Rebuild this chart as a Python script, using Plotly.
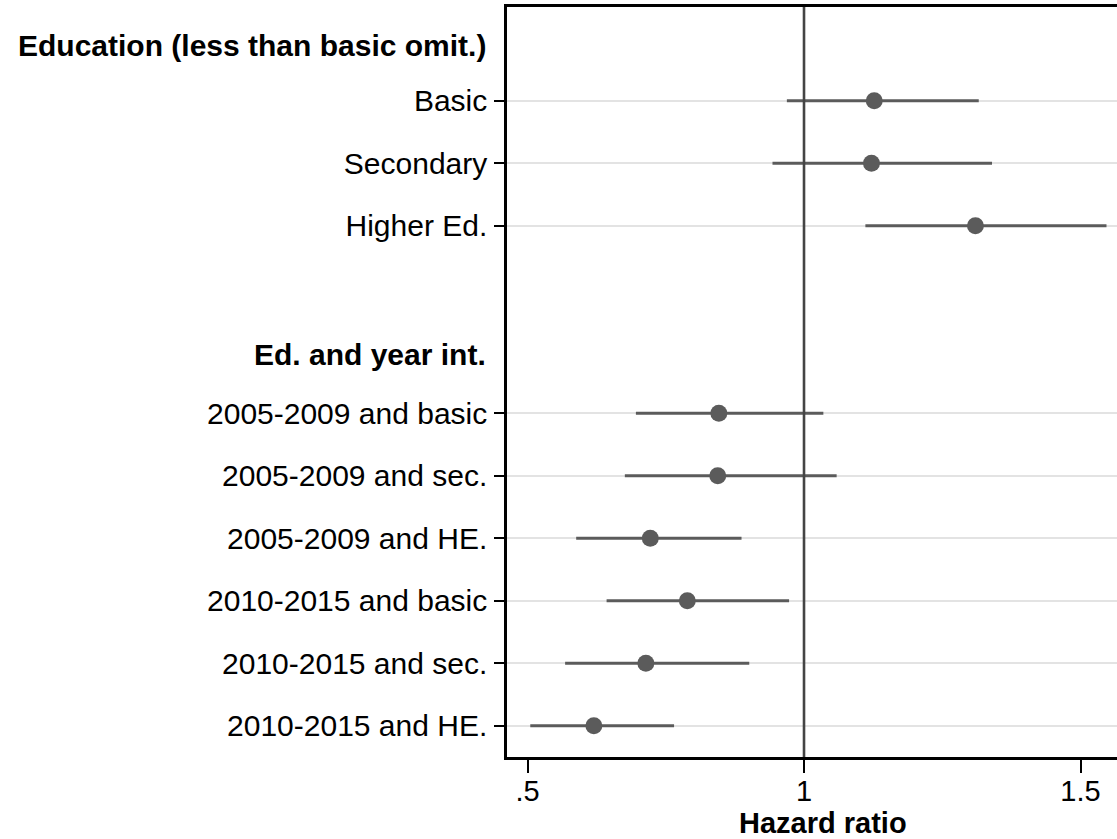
import plotly.graph_objects as go

# Coefficient plot: hazard ratios with 95% confidence intervals
labels = [
    "Basic", "Secondary", "Higher Ed.",
    "2005-2009 and basic", "2005-2009 and sec.", "2005-2009 and HE.",
    "2010-2015 and basic", "2010-2015 and sec.", "2010-2015 and HE.",
]
row_pos = [1, 2, 3, 6, 7, 8, 9, 10, 11]
hr = [1.127, 1.122, 1.310, 0.846, 0.844, 0.722, 0.789, 0.714, 0.620]
ci_lo = [0.969, 0.943, 1.111, 0.696, 0.676, 0.588, 0.643, 0.568, 0.505]
ci_hi = [1.316, 1.340, 1.547, 1.035, 1.059, 0.887, 0.973, 0.901, 0.765]

headers = ["Education (less than basic omit.)", "Ed. and year int."]
header_pos = [0, 5]

x_ticks = [0.5, 1, 1.5]
x_ticktext = [".5", "1", "1.5"]

FONT = "Liberation Sans, Arial, Helvetica, sans-serif"
MARK = "#5b5b5b"

fig = go.Figure()

fig.add_trace(go.Scatter(
    x=hr,
    y=row_pos,
    mode="markers",
    marker=dict(size=17, color=MARK, line=dict(width=0)),
    error_x=dict(
        type="data",
        symmetric=False,
        array=[h - e for h, e in zip(ci_hi, hr)],
        arrayminus=[e - l for e, l in zip(hr, ci_lo)],
        width=0,
        thickness=3.2,
        color=MARK,
    ),
    showlegend=False,
    hoverinfo="skip",
))

# Reference line at hazard ratio = 1
fig.add_shape(
    type="line", xref="x", yref="paper",
    x0=1, x1=1, y0=0, y1=1,
    line=dict(color="#444444", width=2.6),
    layer="above",
)

# Group headings in the label column
for text, pos, shift in zip(headers, header_pos, [-7, -4]):
    fig.add_annotation(
        text="<b>" + text + "</b>",
        xref="paper", yref="y",
        x=0, y=pos, xanchor="right", yanchor="middle",
        xshift=-19, yshift=shift,
        showarrow=False,
        font=dict(family=FONT, size=30, color="#000000"),
    )

# Axis title
fig.add_annotation(
    text="<b>Hazard ratio</b>",
    xref="paper", yref="paper",
    x=0.518, y=0, xanchor="center", yanchor="middle",
    yshift=-66,
    showarrow=False,
    font=dict(family=FONT, size=29, color="#000000"),
)

fig.update_layout(
    width=1117,
    height=839,
    margin=dict(l=507, r=0, t=7, b=82),
    paper_bgcolor="white",
    plot_bgcolor="white",
    font=dict(family=FONT, color="#000000"),
    xaxis=dict(
        range=[0.4629, 1.566],
        tickvals=x_ticks,
        ticktext=x_ticktext,
        ticks="outside",
        ticklen=13,
        tickwidth=1.5,
        tickcolor="#000000",
        ticklabelstandoff=-7,
        tickfont=dict(family=FONT, size=29, color="#000000"),
        showgrid=False,
        zeroline=False,
        showline=True,
        linecolor="#000000",
        linewidth=2.5,
        mirror=True,
    ),
    yaxis=dict(
        range=[11.5, -0.5],
        tickvals=row_pos,
        ticktext=labels,
        ticks="outside",
        ticklen=10,
        tickwidth=1.5,
        tickcolor="#000000",
        ticklabelstandoff=1,
        tickfont=dict(family=FONT, size=30, color="#000000"),
        showgrid=True,
        gridcolor="#e3e3e3",
        gridwidth=1.6,
        zeroline=False,
        showline=True,
        linecolor="#000000",
        linewidth=2.5,
        mirror=False,
    ),
)

fig.write_html("out.html")
